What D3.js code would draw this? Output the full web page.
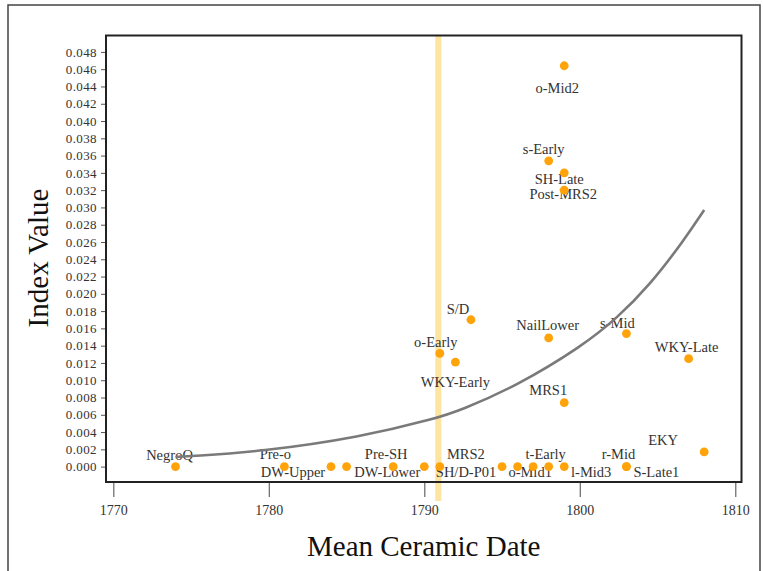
<!DOCTYPE html>
<html>
<head>
<meta charset="utf-8">
<script src="https://cdn.jsdelivr.net/npm/d3@7"></script>
<style>
  body { margin: 0; background: #fff; }
  svg { display: block; font-family: "Liberation Serif", "Times New Roman", serif; }
</style>
</head>
<body>
<svg width="763" height="571"></svg>
<script>
// sites: mean ceramic date + index value
const siteNames = ['NegroQ', 'Pre-o', 'DW-Upper', '', 'Pre-SH', 'DW-Lower', 'MRS2', 'SH/D-P01', '',
    'o-Mid1', 't-Early', 'l-Mid3', 'r-Mid', 'S-Late1', 'EKY', 'o-Mid2', 's-Early', 'SH-Late',
    'Post-MRS2', 'S/D', 'NailLower', 's-Mid', 'o-Early', 'WKY-Early', 'WKY-Late', 'MRS1'];
const siteDates = [1774, 1781, 1784, 1785, 1788, 1790, 1791, 1795, 1796,
    1797, 1798, 1799, 1803, 1803, 1808, 1799, 1798, 1799,
    1799, 1793, 1798, 1803, 1791, 1792, 1807, 1799];
const siteValues = [0, 0, 0, 0, 0, 0, 0, 0, 0,
    0, 0, 0, 0, 0, 0.0017, 0.0464, 0.0354, 0.0340,
    0.0320, 0.0170, 0.0149, 0.0154, 0.0131, 0.0121, 0.0125, 0.0074];

// fitted trend line
const trendDates = [1774, 1775.1, 1779.4, 1785.9, 1790.8, 1792.3, 1795.9, 1800.2, 1802.4, 1804.5, 1806.7, 1808];
const trendValues = [0.00112, 0.00122, 0.00172, 0.0034, 0.0056, 0.0065, 0.0093, 0.0140, 0.0172, 0.0210, 0.0262, 0.0297];

const markerDate = 1790.9; // yellow reference line

const xTicks = [1770, 1780, 1790, 1800, 1810];
const yTicks = [0, 0.002, 0.004, 0.006, 0.008, 0.010, 0.012, 0.014, 0.016, 0.018, 0.020, 0.022,
    0.024, 0.026, 0.028, 0.030, 0.032, 0.034, 0.036, 0.038, 0.040, 0.042, 0.044, 0.046, 0.048];

// label placement (px from the dot), same order as siteNames
const labelOffsets = [[-6, -12], [-9, -13], [-38, 5], [0, 0], [-7, -13], [-37, 5], [26, -13], [-36, 5], [0, 0],
    [-3, 5], [-3, -13], [27, 5], [-8, -13], [30, 5], [-41, -12], [-7, 22], [-5, -12], [-5, 6],
    [-1, 4], [-13, -11], [-1, -13], [-9, -11], [-4, -12], [0, 20], [-2, -12], [-16, -13]];

const PLOT = {left: 106, top: 35.5, right: 741.5, bottom: 482};

const sites = siteNames.map((name, i) => ({name, date: siteDates[i], value: siteValues[i], off: labelOffsets[i]}));
const trend = trendDates.map((d, i) => ({date: d, value: trendValues[i]}));

const x = d3.scaleLinear().domain([1769.53, 1810.4]).range([PLOT.left, PLOT.right]);
const y = d3.scaleLinear().domain([-0.00178, 0.0499]).range([PLOT.bottom, PLOT.top]);

const svg = d3.select('svg');

// outer frame
svg.append('rect')
    .attr('x', 8).attr('y', 5)
    .attr('width', 752).attr('height', 620)
    .attr('fill', 'none')
    .attr('stroke', '#444')
    .attr('stroke-width', 1.5);

// yellow marker band
svg.append('rect')
    .attr('x', x(markerDate) - 3)
    .attr('y', PLOT.top)
    .attr('width', 6)
    .attr('height', 501 - PLOT.top)
    .attr('fill', '#FDE4A0');

// axes
const yAxis = svg.append('g')
    .attr('transform', `translate(${PLOT.left},0)`)
    .call(d3.axisLeft(y).tickValues(yTicks).tickSize(5).tickPadding(4).tickFormat(d3.format('.3f')));
yAxis.select('.domain').remove();
yAxis.selectAll('line').attr('stroke', '#555');
yAxis.selectAll('text')
    .attr('font-size', 13)
    .attr('letter-spacing', 0.4)
    .attr('fill', '#333')
    .attr('font-family', '"Liberation Serif", serif');

const xAxis = svg.append('g')
    .attr('transform', `translate(0,${PLOT.bottom})`)
    .call(d3.axisBottom(x).tickValues(xTicks).tickSize(15).tickPadding(8).tickFormat(d3.format('d')));
xAxis.select('.domain').remove();
xAxis.selectAll('line').attr('stroke', '#666').attr('stroke-width', 1.2);
xAxis.selectAll('text')
    .attr('font-size', 14)
    .attr('fill', '#333')
    .attr('font-family', '"Liberation Serif", serif');

// site labels
svg.selectAll('.label')
    .data(sites.filter(d => d.name !== ''))
    .enter()
    .append('text')
    .classed('label', true)
    .attr('x', d => x(d.date) + d.off[0])
    .attr('y', d => y(d.value) + d.off[1])
    .attr('dy', '0.35em')
    .attr('text-anchor', 'middle')
    .attr('font-size', 14.5)
    .attr('fill', '#333')
    .text(d => d.name);

// trend curve
svg.append('path')
    .datum(trend)
    .attr('fill', 'none')
    .attr('stroke', '#7a7a7a')
    .attr('stroke-width', 2.6)
    .attr('d', d3.line().x(d => x(d.date)).y(d => y(d.value)).curve(d3.curveBasis));

// dots
svg.selectAll('.dot')
    .data(sites)
    .enter()
    .append('circle')
    .classed('dot', true)
    .attr('cx', d => x(d.date))
    .attr('cy', d => y(d.value))
    .attr('r', 4.4)
    .attr('fill', '#FFA30A');

// plot frame
svg.append('rect')
    .attr('x', PLOT.left).attr('y', PLOT.top)
    .attr('width', PLOT.right - PLOT.left)
    .attr('height', PLOT.bottom - PLOT.top)
    .attr('fill', 'none')
    .attr('stroke', '#222')
    .attr('stroke-width', 2);

// axis titles
svg.append('text')
    .attr('x', (PLOT.left + PLOT.right) / 2)
    .attr('y', 556)
    .attr('text-anchor', 'middle')
    .attr('font-size', 29)
    .attr('fill', '#111')
    .text('Mean Ceramic Date');

svg.append('text')
    .attr('transform', 'translate(48,258) rotate(-90)')
    .attr('text-anchor', 'middle')
    .attr('font-size', 29)
    .attr('fill', '#111')
    .text('Index Value');
</script>
</body>
</html>
